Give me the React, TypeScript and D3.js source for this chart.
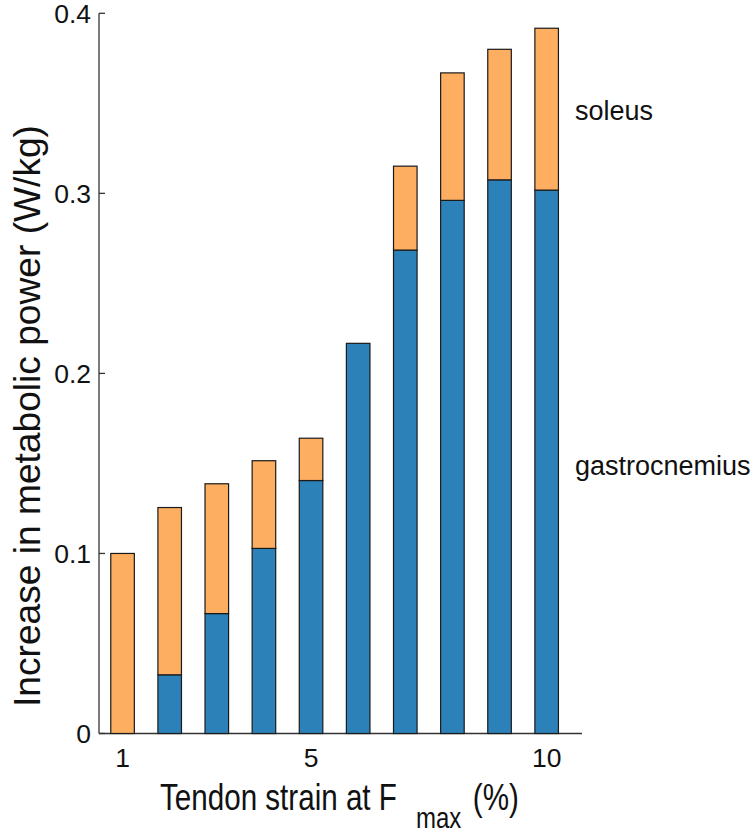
import React, { useEffect } from "react";
import * as d3 from "d3";

const strains = [1, 2, 3, 4, 5, 6, 7, 8, 9, 10];
const gastrocnemius = [0, 0.0326, 0.0666, 0.1028, 0.1405, 0.2167, 0.2685, 0.2961, 0.3075, 0.3018];
const soleus = [0.1, 0.0929, 0.0721, 0.0487, 0.0235, 0, 0.0466, 0.0708, 0.0725, 0.0899];
const yTicks = [0, 0.1, 0.2, 0.3, 0.4];
const xTicks = [1, 5, 10];
const seriesNames = ["gastrocnemius", "soleus"];

const W = 755;
const H = 834;
const FONT = "'Liberation Sans', Arial, Helvetica, sans-serif";

export default function App() {
  useEffect(() => {
    document.body.style.margin = "0";
  }, []);

  const x = d3.scaleLinear().domain([0.5, 10.75]).range([99, 582]);
  const y = d3.scaleLinear().domain([0, 0.4]).range([733.5, 13.3]);
  const barW = (x(2) - x(1)) * 0.5;

  const rows = strains.map((s, i) => ({ s, gastrocnemius: gastrocnemius[i], soleus: soleus[i] }));
  const stacked = d3.stack<any>().keys(seriesNames)(rows);
  const colors: Record<string, string> = { gastrocnemius: "#2c82b8", soleus: "#fdae61" };

  return (
    <svg width={W} height={H} style={{ display: "block", background: "#fff" }} fontFamily={FONT}>
      {/* axes */}
      <line x1={x(0.5)} x2={x(0.5)} y1={y(0.4)} y2={y(0)} stroke="#333" strokeWidth={1.3} />
      <line x1={x(0.5)} x2={x(10.75)} y1={y(0)} y2={y(0)} stroke="#333" strokeWidth={1.3} />
      {yTicks.map((t) => (
        <g key={"y" + t}>
          <line x1={x(0.5)} x2={x(0.5) + 6} y1={y(t)} y2={y(t)} stroke="#333" strokeWidth={1.3} />
          <text x={91} y={y(t)} dy="0.36em" textAnchor="end" fontSize={26.5} fill="#111">
            {t === 0 ? "0" : d3.format(".1f")(t)}
          </text>
        </g>
      ))}
      {xTicks.map((t) => (
        <g key={"x" + t}>
          <line x1={x(t)} x2={x(t)} y1={y(0)} y2={y(0) - 6} stroke="#333" strokeWidth={1.3} />
          <text x={x(t)} y={767} textAnchor="middle" fontSize={26.5} fill="#111">
            {t}
          </text>
        </g>
      ))}
      {/* bars */}
      {stacked.map((layer) => (
        <g key={layer.key} fill={colors[layer.key]}>
          {layer.map((d: any, i: number) =>
            d[1] - d[0] > 0 ? (
              <rect
                key={i}
                x={x(strains[i]) - barW / 2}
                width={barW}
                y={y(d[1])}
                height={y(d[0]) - y(d[1])}
                stroke="#1a1a1a"
                strokeWidth={1.2}
              />
            ) : null
          )}
        </g>
      ))}
      {/* series labels */}
      <text x={575} y={120} fontSize={27} fill="#111">soleus</text>
      <text x={575} y={475} fontSize={27} fill="#111">gastrocnemius</text>
      {/* axis titles */}
      <text
        transform={`translate(40,416) rotate(-90)`}
        textAnchor="middle"
        fontSize={37}
        fill="#111"
        textLength={582}
        lengthAdjust="spacingAndGlyphs"
      >
        Increase in metabolic power (W/kg)
      </text>
      <text transform="translate(160,810) scale(0.8,1)" fontSize={37} fill="#111">
        <tspan x={0} y={0}>Tendon strain at F</tspan>
        <tspan x={320} y={18} fontSize={30}>max</tspan>
        <tspan x={391} y={0}>(%)</tspan>
      </text>
    </svg>
  );
}
